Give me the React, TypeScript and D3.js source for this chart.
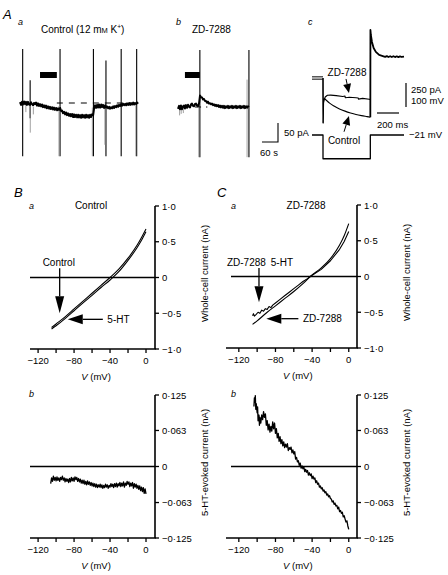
import React from 'react';
import * as d3 from 'd3';

const FONT = "'Liberation Sans', Arial, Helvetica, sans-serif";

// ---------- Panel A a : holding current (time s, current pA) ----------
const aaTrace: [number, number][] = [
  [0, 2], [4, -5], [7.5, 3], [11, -4], [15, 4], [19, -3], [22.5, 3], [26, -5], [30, 3], [34, -4],
  [37.5, -5], [41, 2], [45, -3], [49, -6], [52.5, 0], [56, -3], [60, 1], [64, -7], [67.5, -1], [71, -8],
  [75, -3], [79, -9], [82.5, -4], [86, -11], [90, -6], [94, -12], [97.5, -7], [101, -14], [105, -9], [109, -15],
  [112.5, -10], [116, -16], [120, -11], [124, -17], [127.5, -12], [131, -18], [135, -13], [139, -19], [142.5, -14], [146, -18],
  [150, -13], [154, -21], [157.5, -20], [161, -27], [165, -23], [169, -30], [172.5, -25], [176, -32], [180, -27], [184, -34],
  [187.5, -29], [191, -35], [195, -29], [199, -37], [202.5, -30], [206, -37], [210, -31], [214, -38], [217.5, -31], [221, -38],
  [225, -32], [229, -39], [232.5, -31], [236, -38], [240, -32], [244, -39], [247.5, -31], [251, -38], [255, -32], [259, -39],
  [262.5, -31], [266, -37], [270, -30], [274, -32], [277.5, -14], [281, -6], [285, -13], [289, -5], [292.5, -12], [296, -4],
  [300, -12], [304, -4], [307.5, -11], [311, -5], [315, -13], [319, -6], [322.5, -12], [326, -9], [330, -14], [334, -10],
  [337.5, -15], [341, -11], [345, -14], [349, -9], [352.5, -13], [356, -8], [360, -11], [364, -6], [367.5, -10], [371, -5],
  [375, -8], [379, -3], [382.5, -7], [386, -2], [390, -6], [394, -2], [397.5, -6], [401, -1], [405, -5], [409, 0],
  [412.5, -5], [416, -1], [420, -4], [424, 1], [427.5, -4], [431, 0], [435, -3], [439, 1], [442, -2],
];
// voltage-step artefacts: [time s, top pA, bottom pA, grey?]
const aaSpikes: [number, number, number, number][] = [
  [10, 142, -140, 0], [38, 60, -40, 0], [38.5, -5, -78, 1], [150, 142, -140, 0], [146, -8, -140, 1],
  [275, 142, -140, 0], [271, -12, -140, 1], [322, 112, -140, 0], [318, -10, -110, 1],
  [379, 142, -140, 0], [437, 142, -140, 0], [434, -4, -140, 1], [22, -4, -24, 1], [50, -10, -30, 1],
];
const aaDrug: [number, number] = [75, 138]; // 5-HT application bar (s)
const aaBaseline: [number, number] = [138, 442];

// ---------- Panel A b ----------
const abTrace: [number, number][] = [
  [0, -5], [4, 3], [7.5, -6], [11, 4], [15, -6], [19, 2], [22.5, 4], [26, -4], [30, 5], [34, -2],
  [37.5, 6], [41, 1], [45, -1], [49, 7], [52.5, 9], [56, 3], [60, 2], [64, 8], [67.5, 9], [71, 4],
  [75, 2], [79, 10], [82.5, 30], [86, 26], [90, 25], [94, 20], [97.5, 21], [101, 16], [105, 16], [109, 11],
  [112.5, 14], [116, 9], [120, 10], [124, 7], [127.5, 9], [131, 5], [135, 7], [139, 3], [142.5, 6], [146, 2],
  [150, 5], [154, 0], [157.5, 4], [161, -1], [165, 3], [169, -2], [172.5, 3], [176, -3], [180, 2], [184, -2],
  [187.5, 3], [191, -3], [195, 2], [199, -2], [202.5, 3], [206, -3], [210, 2], [214, -2], [217.5, 3], [221, -3],
  [225, 2], [229, -2], [232.5, 3], [236, -3], [240, 2], [244, -2], [247.5, 3], [251, -3], [255, 2], [259, -2],
  [262.5, 2], [266, 0],
];
const abSpikes: [number, number, number, number][] = [
  [82, 150, -132, 0], [78, 0, -132, 1], [266, 150, -132, 0], [259, 72, -132, 1],
  [6, -2, -22, 1], [12, -3, -18, 1], [20, -1, -16, 1],
];
const abDrug: [number, number] = [26, 82];
const abBaseline: [number, number] = [64, 110];

// ---------- Panel A c : voltage-clamp step (time ms, current pA, voltage mV) ----------
const cHold: [number, number][] = [[0, 0], [100, 0]];
const cZD: [number, number][] = [
  [100, 0], [101, -469], [105, -260], [110, -229], [120, -198], [140, -180], [170, -178], [220, -184],
  [280, -192], [300, -188], [302, -205], [340, -200], [400, -205], [420, -208], [422, -220], [460, -212], [520, -222], [530, -225],
];
const cControl: [number, number][] = [
  [100, 0], [101, -469], [105, -240], [112, -215], [130, -232], [160, -262], [200, -292], [250, -322],
  [300, -345], [350, -364], [400, -380], [450, -392], [500, -402], [530, -408],
];
const cTail: [number, number][] = [
  [530, -408], [531, 500], [535, 448], [545, 375], [560, 313], [580, 272], [610, 240], [650, 226],
  [665, 220], [680, 228], [695, 219], [710, 227], [725, 218], [740, 227], [755, 218], [770, 226], [785, 218], [800, 225], [815, 219], [836, 222],
];
const cVoltage: [number, number][] = [[0, -21], [100, -21], [100, -120], [530, -120], [530, -21], [836, -21]];

// ---------- Panels B/C a : I-V relations (mV, nA) ----------
const ivV = [-105, -100, -90, -80, -70, -60, -50, -40, -30, -20, -10, -5, 0];
const bControl = [-0.70, -0.65, -0.55, -0.44, -0.33, -0.22, -0.11, 0.0, 0.12, 0.27, 0.45, 0.56, 0.68];
const b5HT = [-0.72, -0.675, -0.575, -0.465, -0.355, -0.25, -0.14, -0.035, 0.085, 0.24, 0.415, 0.52, 0.64];
const cV = [-105, -100, -90, -80, -70, -60, -50, -42, -30, -20, -10, -5, 0];
const cZDIV = [-0.67, -0.62, -0.51, -0.41, -0.31, -0.21, -0.10, 0.0, 0.12, 0.25, 0.44, 0.57, 0.74];
const cZD5HT: [number, number][] = [
  [-105, -0.55], [-104, -0.52], [-103, -0.555], [-101, -0.53], [-99, -0.50], [-97, -0.515], [-95, -0.47],
  [-93, -0.485], [-91, -0.45], [-89, -0.46], [-87, -0.42], [-85, -0.435], [-83, -0.40], [-80, -0.37],
  [-75, -0.32], [-70, -0.27], [-65, -0.22], [-60, -0.17], [-55, -0.12], [-50, -0.07], [-45, -0.03],
  [-42, 0.0], [-30, 0.10], [-20, 0.22], [-10, 0.38], [-5, 0.49], [0, 0.63],
];

// ---------- Panels B/C b : 5-HT-evoked current (mV, nA) ----------
const bEvoked: [number, number][] = [
  [-106, -0.030], [-105, -0.020], [-104, -0.026], [-103, -0.017], [-102, -0.024], [-101, -0.019], [-100, -0.025],
  [-99, -0.018], [-98, -0.024], [-97, -0.020], [-96, -0.026], [-95, -0.019], [-94, -0.023], [-93, -0.017],
  [-92, -0.024], [-91, -0.020], [-90, -0.027], [-89, -0.021], [-88, -0.026], [-87, -0.022], [-86, -0.028],
  [-85, -0.021], [-84, -0.027], [-83, -0.019], [-82, -0.025], [-81, -0.020], [-80, -0.026], [-79, -0.018],
  [-78, -0.023], [-77, -0.019], [-76, -0.026], [-75, -0.021], [-74, -0.027], [-73, -0.022], [-72, -0.029],
  [-71, -0.024], [-70, -0.030], [-69, -0.024], [-68, -0.031], [-67, -0.026], [-66, -0.032], [-65, -0.025],
  [-64, -0.031], [-63, -0.027], [-62, -0.033], [-61, -0.028], [-60, -0.034], [-59, -0.029], [-58, -0.035],
  [-57, -0.030], [-56, -0.036], [-55, -0.031], [-54, -0.037], [-53, -0.032], [-52, -0.036], [-51, -0.031],
  [-50, -0.037], [-49, -0.032], [-48, -0.038], [-47, -0.033], [-46, -0.037], [-45, -0.031], [-44, -0.036],
  [-43, -0.032], [-42, -0.038], [-41, -0.033], [-40, -0.036], [-39, -0.030], [-38, -0.035], [-37, -0.031],
  [-36, -0.037], [-35, -0.030], [-34, -0.035], [-33, -0.029], [-32, -0.036], [-31, -0.030], [-30, -0.034],
  [-29, -0.028], [-28, -0.035], [-27, -0.029], [-26, -0.034], [-25, -0.027], [-24, -0.036], [-23, -0.029],
  [-22, -0.033], [-21, -0.026], [-20, -0.031], [-19, -0.027], [-18, -0.035], [-17, -0.029], [-16, -0.034],
  [-15, -0.028], [-14, -0.038], [-13, -0.030], [-12, -0.036], [-11, -0.031], [-10, -0.038], [-9, -0.033],
  [-8, -0.040], [-7, -0.034], [-6, -0.042], [-5, -0.036], [-4, -0.044], [-3, -0.037], [-2, -0.047],
  [-1, -0.039], [0, -0.048],
];
const cEvoked: [number, number][] = [
  [-103.5, 0.105], [-103, 0.120], [-102.5, 0.112], [-102, 0.124], [-101.5, 0.100], [-101, 0.110], [-100, 0.094],
  [-99.5, 0.104], [-99, 0.080], [-98, 0.090], [-97.5, 0.072], [-97, 0.086], [-96, 0.076], [-95, 0.090],
  [-94, 0.082], [-93, 0.096], [-92, 0.086], [-91, 0.092], [-90, 0.072], [-89, 0.080], [-88, 0.064],
  [-87, 0.074], [-86, 0.060], [-85, 0.070], [-84, 0.062], [-83, 0.078], [-82, 0.066], [-81, 0.076],
  [-80, 0.058], [-79, 0.066], [-78, 0.050], [-77, 0.058], [-76, 0.044], [-75, 0.052], [-74, 0.040],
  [-73, 0.047], [-72, 0.036], [-71, 0.043], [-70, 0.033], [-69, 0.039], [-68, 0.034], [-67, 0.040],
  [-66, 0.028], [-65, 0.033], [-64, 0.030], [-63, 0.034], [-62, 0.024], [-61, 0.029], [-60, 0.022],
  [-59, 0.026], [-58, 0.013], [-57, 0.016], [-56, 0.008], [-55, 0.010], [-54, 0.002], [-53, 0.006],
  [-52, -0.003], [-51, 0.001], [-50, -0.004], [-49, -0.001], [-48, -0.009], [-47, -0.005], [-46, -0.010],
  [-45, -0.007], [-44, -0.015], [-43, -0.011], [-42, -0.016], [-41, -0.013], [-40, -0.021], [-39, -0.017],
  [-38, -0.022], [-37, -0.020], [-36, -0.028], [-35, -0.025], [-34, -0.031], [-33, -0.029], [-32, -0.036],
  [-31, -0.034], [-30, -0.039], [-29, -0.037], [-28, -0.043], [-27, -0.041], [-26, -0.046], [-25, -0.044],
  [-24, -0.050], [-23, -0.048], [-22, -0.053], [-21, -0.051], [-20, -0.056], [-19, -0.057], [-18, -0.062],
  [-17, -0.060], [-16, -0.066], [-15, -0.064], [-14, -0.069], [-13, -0.068], [-12, -0.074], [-11, -0.071],
  [-10, -0.079], [-9, -0.077], [-8, -0.082], [-7, -0.080], [-6, -0.088], [-5, -0.086], [-4, -0.092],
  [-3, -0.097], [-2, -0.095], [-1, -0.104], [0, -0.110],
];

// ---------- axis ticks ----------
const xTicks = [-120, -100, -80, -60, -40, -20, 0];
const xTickLabels = ['−120', '', '−80', '', '−40', '', '0'];
const topYTicks = [1, 0.5, 0, -0.5, -1];
const topYLabels = ['1·0', '0·5', '0', '−0·5', '−1·0'];
const botYTicks = [0.125, 0.063, 0, -0.063, -0.125];
const botYLabels = ['0·125', '0·063', '0', '−0·063', '−0·125'];

// ---------------- scales ----------------
const xAa = d3.scaleLinear().domain([0, 442]).range([20, 138]);
const yAa = d3.scaleLinear().domain([0, -50]).range([103, 122]);
const xAb = d3.scaleLinear().domain([0, 270]).range([178, 250]);
const yAb = d3.scaleLinear().domain([0, -50]).range([107, 126]);
const xCt = d3.scaleLinear().domain([0, 836]).range([312, 404]);
const yCi = d3.scaleLinear().domain([0, -250]).range([78, 102]);
const yCv = d3.scaleLinear().domain([-21, -121]).range([135, 159]);

const xB = d3.scaleLinear().domain([-129, 10]).range([30, 155]);
const yBa = d3.scaleLinear().domain([-1, 1]).range([349, 206]);
const yBb = d3.scaleLinear().domain([-0.125, 0.125]).range([538, 395]);
const xC = d3.scaleLinear().domain([-134, 9]).range([226, 357]);
const yCa = d3.scaleLinear().domain([-1, 1]).range([348, 205]);
const yCb = d3.scaleLinear().domain([-0.125, 0.125]).range([538, 395]);

type Sc = d3.ScaleLinear<number, number>;

function linePath(x: Sc, y: Sc, pts: [number, number][], curve: d3.CurveFactory = d3.curveLinear) {
  return d3.line<[number, number]>().x(d => x(d[0])).y(d => y(d[1])).curve(curve)(pts) || '';
}

function Arrow({ x1, y1, x2, y2, len = 14, half = 5, w = 1.3 }: any) {
  const dx = x2 - x1, dy = y2 - y1;
  const L = Math.hypot(dx, dy);
  const ux = dx / L, uy = dy / L;
  const bx = x2 - ux * len, by = y2 - uy * len;
  const px = -uy, py = ux;
  return (
    <g>
      <line x1={x1} y1={y1} x2={bx} y2={by} stroke="#000" strokeWidth={w} />
      <polygon points={`${x2},${y2} ${bx + px * half},${by + py * half} ${bx - px * half},${by - py * half}`} fill="#000" />
    </g>
  );
}

function IVFrame({ x, y, yTicks, yLabels, yTitle, zeroFrom }: any) {
  const [x0, x1] = x.range();
  const yBot = y(y.domain()[0]);
  const yTop = y(y.domain()[1]);
  return (
    <g fontFamily={FONT} fontSize={9.5}>
      <line x1={zeroFrom ?? x0} x2={x1} y1={y(0)} y2={y(0)} stroke="#000" strokeWidth={1.3} />
      <line x1={x0} x2={x1 + 0.8} y1={yBot} y2={yBot} stroke="#000" strokeWidth={1.6} />
      <line x1={x1} x2={x1} y1={yBot} y2={yTop} stroke="#000" strokeWidth={1.6} />
      {xTicks.map(v => (
        <line key={v} x1={x(v)} x2={x(v)} y1={yBot} y2={yBot + 4} stroke="#000" strokeWidth={1.3} />
      ))}
      {xTicks.map((v, i) => xTickLabels[i] ? (
        <text key={'l' + v} x={x(v)} y={yBot + 15} textAnchor="middle">{xTickLabels[i]}</text>
      ) : null)}
      {yTicks.map((v: number) => (
        <line key={v} x1={x1} x2={x1 + 4} y1={y(v)} y2={y(v)} stroke="#000" strokeWidth={1.3} />
      ))}
      {yTicks.map((v: number, i: number) => (
        <text key={'t' + v} x={x1 + 7} y={y(v) + 3.5}>{yLabels[i]}</text>
      ))}
      <text x={(x(-120) + x(0)) / 2 + 4} y={yBot + 31} textAnchor="middle">
        <tspan fontStyle="italic">V</tspan> (mV)
      </text>
      <text transform={`translate(${x1 + 53},${(yBot + yTop) / 2 - 4}) rotate(-90)`} textAnchor="middle" fontSize={9.5}>{yTitle}</text>
    </g>
  );
}

export default function App() {
  const tr = { fill: 'none', stroke: '#000', strokeLinejoin: 'round' as const };
  const pxPerS = xAa(60) - xAa(0);
  const pxPer50 = yAa(-50) - yAa(0);
  const pxPer200ms = xCt(200) - xCt(0);
  const pxPer250 = yCi(-250) - yCi(0);
  return (
    <svg width={448} height={575} style={{ position: 'absolute', left: 0, top: 0, background: '#fff' }} fontFamily={FONT}>
      <rect width={448} height={575} fill="#fff" />
      {/* ---------- Panel A ---------- */}
      <text x={3} y={19} fontSize={13} fontStyle="italic">A</text>
      <text x={18} y={25} fontSize={9} fontStyle="italic">a</text>
      <text x={41} y={33} fontSize={10}>Control (12 m<tspan fontSize={7.5}>M</tspan> K<tspan fontSize={6.5} dy={-4}>+</tspan><tspan dy={4}>)</tspan></text>
      <text x={176} y={25} fontSize={9} fontStyle="italic">b</text>
      <text x={192} y={33} fontSize={10}>ZD-7288</text>
      <text x={308} y={25} fontSize={9} fontStyle="italic">c</text>

      {/* A a */}
      <rect x={xAa(aaDrug[0])} y={72} width={xAa(aaDrug[1]) - xAa(aaDrug[0])} height={6} fill="#000" />
      <line x1={xAa(aaBaseline[0])} x2={xAa(aaBaseline[1])} y1={yAa(0)} y2={yAa(0)} stroke="#000" strokeWidth={1} strokeDasharray="6,6" />
      {aaSpikes.map((s, i) => (
        <line key={i} x1={xAa(s[0])} x2={xAa(s[0])} y1={yAa(s[1])} y2={yAa(s[2])} stroke={s[3] ? '#888' : '#000'} strokeWidth={s[3] ? 0.8 : 1.1} />
      ))}
      <path d={linePath(xAa, yAa, aaTrace)} {...tr} strokeWidth={2} />

      {/* A b */}
      <rect x={xAb(abDrug[0])} y={72} width={xAb(abDrug[1]) - xAb(abDrug[0])} height={6} fill="#000" />
      <line x1={xAb(abBaseline[0])} x2={xAb(abBaseline[1])} y1={yAb(0)} y2={yAb(0)} stroke="#000" strokeWidth={1} strokeDasharray="6,5" />
      {abSpikes.map((s, i) => (
        <line key={i} x1={xAb(s[0])} x2={xAb(s[0])} y1={yAb(s[1])} y2={yAb(s[2])} stroke={s[3] ? '#888' : '#000'} strokeWidth={s[3] ? 0.8 : 1.1} />
      ))}
      <path d={linePath(xAb, yAb, abTrace)} {...tr} strokeWidth={2} />

      {/* A scale bar */}
      <path d={`M${278 - pxPerS},142 H278 V${142 - pxPer50}`} fill="none" stroke="#000" strokeWidth={1.1} />
      <text x={284} y={136} fontSize={9.5}>50 pA</text>
      <text x={260} y={156} fontSize={9.5}>60 s</text>

      {/* A c */}
      <path d={linePath(xCt, yCi, cHold.map(p => [p[0], p[1] + 12]) as any)} {...tr} strokeWidth={1} />
      <path d={linePath(xCt, yCi, cHold.map(p => [p[0], p[1] - 12]) as any)} {...tr} strokeWidth={1} />
      <path d={linePath(xCt, yCi, cZD, d3.curveLinear)} {...tr} strokeWidth={1.1} />
      <path d={linePath(xCt, yCi, cControl, d3.curveMonotoneX)} {...tr} strokeWidth={1.1} />
      <path d={linePath(xCt, yCi, cTail)} {...tr} strokeWidth={1.8} />
      <path d={linePath(xCt, yCv, cVoltage)} {...tr} strokeWidth={1.3} />
      <Arrow x1={xCt(309)} y1={yCi(-10)} x2={xCt(336)} y2={yCi(-155)} len={9} half={4} w={1} />
      <Arrow x1={xCt(291)} y1={yCi(-560)} x2={xCt(336)} y2={yCi(-396)} len={9} half={4} w={1} />
      <text x={347} y={76} fontSize={10} textAnchor="middle">ZD-7288</text>
      <text x={344} y={144} fontSize={10} textAnchor="middle">Control</text>
      <line x1={406} x2={406} y1={83} y2={83 + pxPer250} stroke="#000" strokeWidth={1.2} />
      <text x={411} y={93} fontSize={9.5}>250 pA</text>
      <text x={411} y={104} fontSize={9.5}>100 mV</text>
      <line x1={377} x2={377 + pxPer200ms} y1={113} y2={113} stroke="#000" strokeWidth={1.2} />
      <text x={377} y={128} fontSize={9.5}>200 ms</text>
      <text x={409} y={138} fontSize={9.5}>−21 mV</text>

      {/* ---------- Panel B ---------- */}
      <text x={14} y={197} fontSize={13} fontStyle="italic">B</text>
      <text x={29} y={209} fontSize={9} fontStyle="italic">a</text>
      <text x={91} y={209} fontSize={10} textAnchor="middle">Control</text>
      <IVFrame x={xB} y={yBa} yTicks={topYTicks} yLabels={topYLabels} yTitle="Whole-cell current (nA)" />
      <path d={linePath(xB, yBa, ivV.map((v, i) => [v, bControl[i]]) as any, d3.curveMonotoneX)} {...tr} strokeWidth={1.1} />
      <path d={linePath(xB, yBa, ivV.map((v, i) => [v, b5HT[i]]) as any, d3.curveMonotoneX)} {...tr} strokeWidth={1.1} />
      <text x={xB(-97)} y={yBa(0.2) + 3} fontSize={10} textAnchor="middle">Control</text>
      <Arrow x1={xB(-96)} y1={yBa(0.13)} x2={xB(-96)} y2={yBa(-0.5)} len={17} half={4.5} w={1.3} />
      <Arrow x1={xB(-48)} y1={yBa(-0.585)} x2={xB(-87)} y2={yBa(-0.585)} len={15} half={5} w={1.3} />
      <text x={xB(-43)} y={yBa(-0.585) + 3.5} fontSize={10}>5-HT</text>

      <text x={29} y={397} fontSize={9} fontStyle="italic">b</text>
      <IVFrame x={xB} y={yBb} yTicks={botYTicks} yLabels={botYLabels} yTitle="5-HT-evoked current (nA)" />
      <path d={linePath(xB, yBb, bEvoked)} {...tr} strokeWidth={1.3} />

      {/* ---------- Panel C ---------- */}
      <text x={217} y={197} fontSize={13} fontStyle="italic">C</text>
      <text x={231} y={209} fontSize={9} fontStyle="italic">a</text>
      <text x={306} y={209} fontSize={10} textAnchor="middle">ZD-7288</text>
      <IVFrame x={xC} y={yCa} yTicks={topYTicks} yLabels={topYLabels} yTitle="Whole-cell current (nA)" zeroFrom={231} />
      <path d={linePath(xC, yCa, cV.map((v, i) => [v, cZDIV[i]]) as any, d3.curveMonotoneX)} {...tr} strokeWidth={1.1} />
      <path d={linePath(xC, yCa, cZD5HT)} {...tr} strokeWidth={1.1} />
      <text x={xC(-133)} y={yCa(0.19) + 3.5} fontSize={10}>ZD-7288<tspan dx={5}>5-HT</tspan></text>
      <Arrow x1={xC(-98)} y1={yCa(0.12)} x2={xC(-98)} y2={yCa(-0.36)} len={16} half={4.5} w={1.3} />
      <Arrow x1={xC(-55)} y1={yCa(-0.59)} x2={xC(-90)} y2={yCa(-0.59)} len={15} half={5} w={1.3} />
      <text x={xC(-50)} y={yCa(-0.59) + 3.5} fontSize={10}>ZD-7288</text>

      <text x={231} y={397} fontSize={9} fontStyle="italic">b</text>
      <IVFrame x={xC} y={yCb} yTicks={botYTicks} yLabels={botYLabels} yTitle="5-HT-evoked current (nA)" zeroFrom={231} />
      <path d={linePath(xC, yCb, cEvoked)} {...tr} strokeWidth={1.3} />
    </svg>
  );
}
